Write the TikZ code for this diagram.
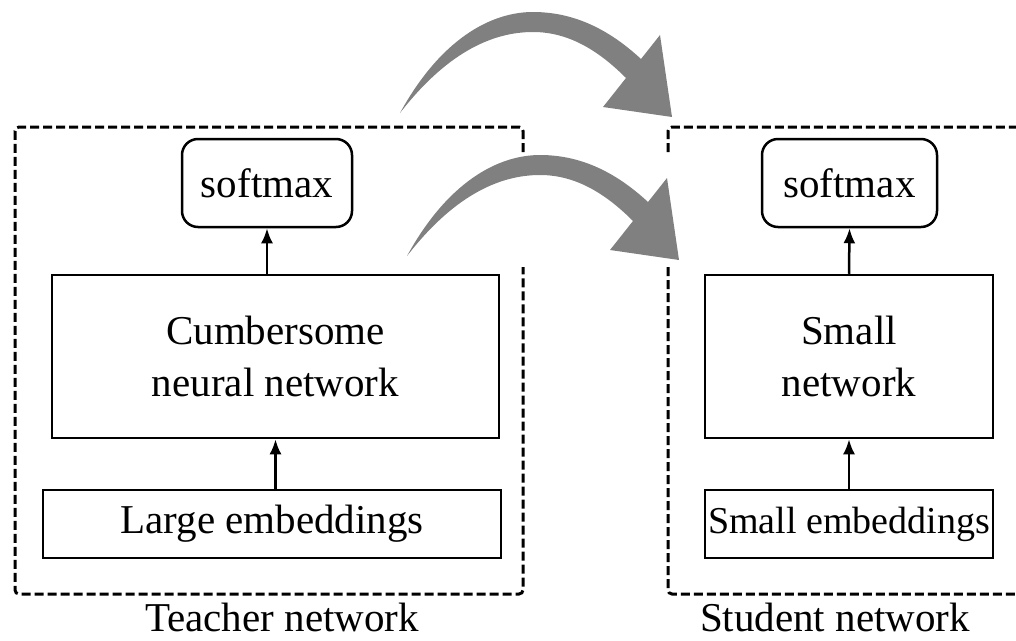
\documentclass[tikz,border=0pt]{standalone}
\usepackage{fontspec}
\setmainfont{Liberation Serif}
\newfontfamily\labelface{Liberation Serif}
\usetikzlibrary{arrows.meta}
\definecolor{arrowgray}{RGB}{128,128,128}
\begin{document}
\begin{tikzpicture}[x=1pt,y=-1pt,
  lbl/.style={font=\labelface\fontsize{41}{52}\selectfont, align=center, inner sep=0pt},
  block/.style={lbl, draw, line width=2.5pt},
  smbox/.style={block, rounded corners=16pt},
  flow/.style={-{Latex[length=15pt,width=12pt]}, line width=2.5pt},
  frame/.style={dash pattern=on 9pt off 4pt, line width=3pt, rounded corners=4pt},
  bend arrow/.pic={
    \fill[arrowgray]
      (400,113) .. controls (440,40) and (490,12) .. (533,12)
      .. controls (580,12) and (615,35) .. (641,59)
      -- (660,35) -- (672,117) -- (603,107) -- (626,78)
      .. controls (600,52) and (570,32) .. (533,32)
      .. controls (490,32) and (445,55) .. (400,113) -- cycle;
  }]
\useasboundingbox (0,0) rectangle (1016,640);

% knowledge-transfer arrows
\pic at (0,0) {bend arrow};
\pic at (7,143) {bend arrow};

% dashed frames around the two networks
\draw[frame] (523,152) -- (523,127) -- (15,127) -- (15,594) -- (523,594) -- (523,267);
\draw[frame] (668,152) -- (668,127) -- (1030,127);
\draw[frame] (668,267) -- (668,594) -- (1030,594);

% teacher network
\node[smbox, minimum width=170pt, minimum height=88pt] (tsm) at (267,183) {softmax};
\node[block, minimum width=447pt, minimum height=163pt] (cumb) at (275.5,356.5) {Cumbersome\\neural network};
\node[block, minimum width=458pt, minimum height=68pt] (large) at (272,524) {Large embeddings};
\node[lbl] (tcap) at (282,617) {Teacher network};

% student network
\node[smbox, minimum width=175pt, minimum height=88pt] (ssm) at (849.5,183) {softmax};
\node[block, minimum width=288pt, minimum height=163pt] (small) at (849,356.5) {Small\\network};
\node[block, minimum width=288pt, minimum height=68pt, font=\labelface\fontsize{38}{46}\selectfont] (semb) at (849,524) {Small embeddings};
\node[lbl] (scap) at (835,617) {Student network};

% data flow
\draw[flow] (tsm.south |- cumb.north) -- (tsm.south);
\draw[flow] (cumb.south |- large.north) -- (cumb.south);
\draw[flow] (small.north) -- (ssm.south);
\draw[flow] (semb.north) -- (small.south);
\end{tikzpicture}
\end{document}
